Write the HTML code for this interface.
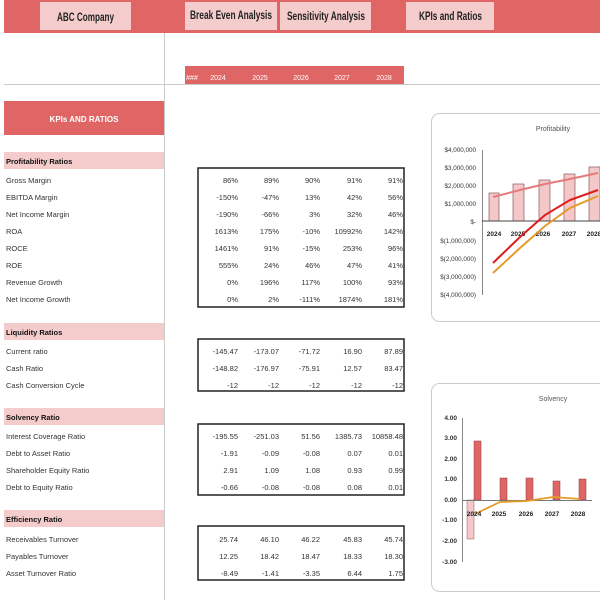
<!DOCTYPE html>
<html><head><meta charset="utf-8"><style>
html,body{margin:0;padding:0;background:#fff;}
svg{display:block;font-family:"Liberation Sans Narrow","Liberation Sans",sans-serif;}
</style></head><body>
<svg width="600" height="600" viewBox="0 0 600 600" xmlns="http://www.w3.org/2000/svg">
<rect x="4" y="0" width="596" height="33" fill="#e06666"/>
<rect x="40" y="2" width="91" height="28" fill="#f4cccc"/>
<rect x="185" y="2" width="92" height="28" fill="#f4cccc"/>
<rect x="280" y="2" width="91" height="28" fill="#f4cccc"/>
<rect x="406" y="2" width="88" height="28" fill="#f4cccc"/>
<g font-weight="bold" font-size="12" fill="#222" lengthAdjust="spacingAndGlyphs">
<text x="57" y="21" textLength="57" lengthAdjust="spacingAndGlyphs">ABC Company</text>
<text x="190" y="19" textLength="82" lengthAdjust="spacingAndGlyphs">Break Even Analysis</text>
<text x="287" y="20" textLength="78" lengthAdjust="spacingAndGlyphs">Sensitivity Analysis</text>
<text x="419" y="20" textLength="63" lengthAdjust="spacingAndGlyphs">KPIs and Ratios</text>
</g>
<line x1="164.5" y1="33" x2="164.5" y2="600" stroke="#ccc"/>
<line x1="4" y1="84.5" x2="600" y2="84.5" stroke="#ccc"/>
<rect x="185" y="66" width="219" height="18" fill="#e06666"/>
<g font-size="7" fill="#fff" text-anchor="middle">
<text x="192" y="80">###</text><text x="218" y="80">2024</text><text x="260" y="80">2025</text><text x="301" y="80">2026</text><text x="342" y="80">2027</text><text x="384" y="80">2028</text>
</g>
<rect x="4" y="101" width="160" height="34" fill="#e06666"/>
<text x="84" y="122" font-size="8" fill="#fff" text-anchor="middle" font-weight="bold">KPIs AND RATIOS</text>

<g font-size="7.5" fill="#333">
<rect x="4" y="152" width="160" height="17" fill="#f4cccc"/>
<text x="6" y="164" font-weight="bold" fill="#111">Profitability Ratios</text>
<text x="6" y="183">Gross Margin</text><text x="6" y="200">EBITDA Margin</text><text x="6" y="217">Net Income Margin</text><text x="6" y="234">ROA</text><text x="6" y="251">ROCE</text><text x="6" y="268">ROE</text><text x="6" y="285">Revenue Growth</text><text x="6" y="302">Net Income Growth</text>

<rect x="4" y="323" width="160" height="17" fill="#f4cccc"/>
<text x="6" y="335" font-weight="bold" fill="#111">Liquidity Ratios</text>
<text x="6" y="354">Current ratio</text><text x="6" y="371">Cash Ratio</text><text x="6" y="388">Cash Conversion Cycle</text>

<rect x="4" y="408" width="160" height="17" fill="#f4cccc"/>
<text x="6" y="420" font-weight="bold" fill="#111">Solvency Ratio</text>
<text x="6" y="439">Interest Coverage Ratio</text><text x="6" y="456">Debt to Asset Ratio</text><text x="6" y="473">Shareholder Equity Ratio</text><text x="6" y="490">Debt to Equity Ratio</text>

<rect x="4" y="510" width="160" height="17" fill="#f4cccc"/>
<text x="6" y="522" font-weight="bold" fill="#111">Efficiency Ratio</text>
<text x="6" y="542">Receivables Turnover</text><text x="6" y="559">Payables Turnover</text><text x="6" y="576">Asset Turnover Ratio</text>
</g>

<g fill="none" stroke="#222" stroke-width="1.5">
<rect x="198" y="168" width="206" height="139"/>
<rect x="198" y="339" width="206" height="52"/>
<rect x="198" y="424" width="206" height="71"/>
<rect x="198" y="526" width="206" height="54"/>
</g>
<g font-size="7.5" fill="#333" text-anchor="end">
<g transform="translate(0,183)"><text x="238">86%</text><text x="279">89%</text><text x="320">90%</text><text x="362">91%</text><text x="403">91%</text></g>
<g transform="translate(0,200)"><text x="238">-150%</text><text x="279">-47%</text><text x="320">13%</text><text x="362">42%</text><text x="403">56%</text></g>
<g transform="translate(0,217)"><text x="238">-190%</text><text x="279">-66%</text><text x="320">3%</text><text x="362">32%</text><text x="403">46%</text></g>
<g transform="translate(0,234)"><text x="238">1613%</text><text x="279">175%</text><text x="320">-10%</text><text x="362">10992%</text><text x="403">142%</text></g>
<g transform="translate(0,251)"><text x="238">1461%</text><text x="279">91%</text><text x="320">-15%</text><text x="362">253%</text><text x="403">96%</text></g>
<g transform="translate(0,268)"><text x="238">555%</text><text x="279">24%</text><text x="320">46%</text><text x="362">47%</text><text x="403">41%</text></g>
<g transform="translate(0,285)"><text x="238">0%</text><text x="279">196%</text><text x="320">117%</text><text x="362">100%</text><text x="403">93%</text></g>
<g transform="translate(0,302)"><text x="238">0%</text><text x="279">2%</text><text x="320">-111%</text><text x="362">1874%</text><text x="403">181%</text></g>
<g transform="translate(0,354)"><text x="238">-145.47</text><text x="279">-173.07</text><text x="320">-71.72</text><text x="362">16.90</text><text x="403">87.89</text></g>
<g transform="translate(0,371)"><text x="238">-148.82</text><text x="279">-176.97</text><text x="320">-75.91</text><text x="362">12.57</text><text x="403">83.47</text></g>
<g transform="translate(0,388)"><text x="238">-12</text><text x="279">-12</text><text x="320">-12</text><text x="362">-12</text><text x="403">-12</text></g>
<g transform="translate(0,439)"><text x="238">-195.55</text><text x="279">-251.03</text><text x="320">51.56</text><text x="362">1385.73</text><text x="403">10858.48</text></g>
<g transform="translate(0,456)"><text x="238">-1.91</text><text x="279">-0.09</text><text x="320">-0.08</text><text x="362">0.07</text><text x="403">0.01</text></g>
<g transform="translate(0,473)"><text x="238">2.91</text><text x="279">1.09</text><text x="320">1.08</text><text x="362">0.93</text><text x="403">0.99</text></g>
<g transform="translate(0,490)"><text x="238">-0.66</text><text x="279">-0.08</text><text x="320">-0.08</text><text x="362">0.08</text><text x="403">0.01</text></g>
<g transform="translate(0,542)"><text x="238">25.74</text><text x="279">46.10</text><text x="320">46.22</text><text x="362">45.83</text><text x="403">45.74</text></g>
<g transform="translate(0,559)"><text x="238">12.25</text><text x="279">18.42</text><text x="320">18.47</text><text x="362">18.33</text><text x="403">18.30</text></g>
<g transform="translate(0,576)"><text x="238">-8.49</text><text x="279">-1.41</text><text x="320">-3.35</text><text x="362">6.44</text><text x="403">1.75</text></g>
</g>

<!-- Profitability chart -->
<rect x="431.5" y="113.5" width="180" height="208" rx="8" fill="#fff" stroke="#ccc"/>
<text x="553" y="131" font-size="7" fill="#555" text-anchor="middle">Profitability</text>
<g font-size="6.3" fill="#333" text-anchor="end">
<text x="476" y="152">$4,000,000</text><text x="476" y="170">$3,000,000</text><text x="476" y="188">$2,000,000</text><text x="476" y="206">$1,000,000</text><text x="476" y="224">$-</text><text x="476" y="243">$(1,000,000)</text><text x="476" y="261">$(2,000,000)</text><text x="476" y="279">$(3,000,000)</text><text x="476" y="297">$(4,000,000)</text>
</g>
<line x1="482.5" y1="150" x2="482.5" y2="295" stroke="#888"/>
<g fill="#f4c7c8" stroke="#8a5a5a" stroke-width="0.7">
<rect x="489" y="193" width="10" height="28"/><rect x="513" y="184" width="11" height="37"/><rect x="539" y="180" width="11" height="41"/><rect x="564" y="174" width="11" height="47"/><rect x="589" y="167" width="11" height="54"/>
</g>
<line x1="482" y1="221" x2="600" y2="221" stroke="#444"/>
<g font-size="6.5" fill="#222" text-anchor="middle" font-weight="bold">
<text x="494" y="236">2024</text><text x="518" y="236">2025</text><text x="543" y="236">2026</text><text x="569" y="236">2027</text><text x="594" y="236">2028</text>
</g>
<polyline points="493,197 520,190 545,184 570,179 598,173" fill="none" stroke="#e57a7a" stroke-width="2"/>
<polyline points="493,273 520,248 545,226 570,208 598,196" fill="none" stroke="#e69a28" stroke-width="2"/>
<polyline points="493,263 520,237 545,215 570,200 598,190" fill="none" stroke="#e01b1b" stroke-width="2"/>

<!-- Solvency chart -->
<rect x="431.5" y="383.5" width="180" height="208" rx="8" fill="#fff" stroke="#ccc"/>
<text x="553" y="401" font-size="7" fill="#555" text-anchor="middle">Solvency</text>
<g font-size="6.5" fill="#333" text-anchor="end" font-weight="bold">
<text x="457" y="420">4.00</text><text x="457" y="440">3.00</text><text x="457" y="461">2.00</text><text x="457" y="481">1.00</text><text x="457" y="502">0.00</text><text x="457" y="522">-1.00</text><text x="457" y="543">-2.00</text><text x="457" y="564">-3.00</text>
</g>
<line x1="462.5" y1="418" x2="462.5" y2="562" stroke="#888"/>
<rect x="467" y="500" width="7" height="39" fill="#f4c7c8" stroke="#8a5a5a" stroke-width="0.5"/>
<g fill="#e06666" stroke="#8a3a3a" stroke-width="0.5">
<rect x="474" y="441" width="7" height="59"/><rect x="500" y="478" width="7" height="22"/><rect x="526" y="478" width="7" height="22"/><rect x="553" y="481" width="7" height="19"/><rect x="579" y="479" width="7" height="21"/>
</g>
<line x1="462" y1="500.5" x2="592" y2="500.5" stroke="#777"/>
<polyline points="475,514 500,502 527,501 553,497 580,499" fill="none" stroke="#e69a28" stroke-width="1.8"/>
<g font-size="6.5" fill="#222" text-anchor="middle" font-weight="bold">
<text x="474" y="516">2024</text><text x="499" y="516">2025</text><text x="526" y="516">2026</text><text x="552" y="516">2027</text><text x="578" y="516">2028</text>
</g>
</svg>
</body></html>
